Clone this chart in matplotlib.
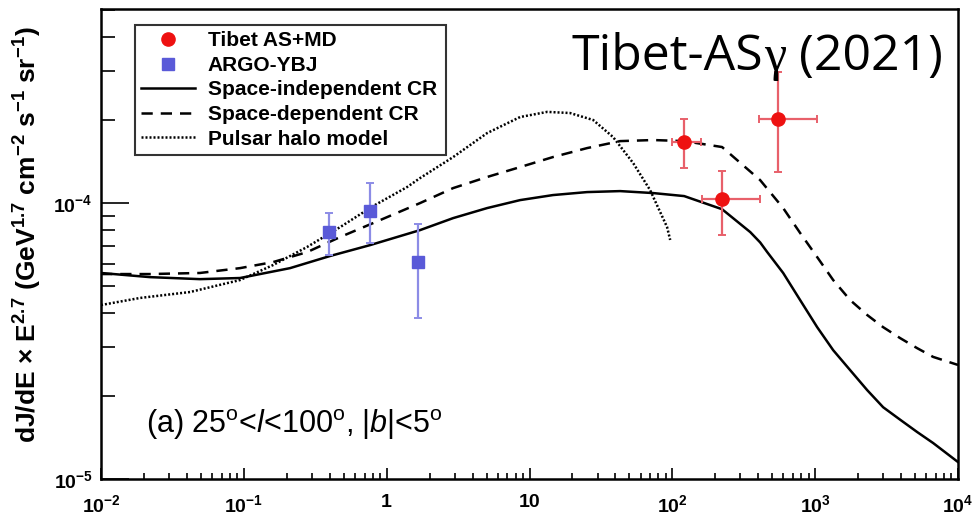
import numpy as np
import matplotlib
import matplotlib.pyplot as plt
from matplotlib.ticker import FixedLocator, FuncFormatter, NullFormatter

matplotlib.use("agg")

plt.rcParams["font.family"] = ["Liberation Sans", "DejaVu Sans"]
plt.rcParams["font.weight"] = "bold"
plt.rcParams["mathtext.fontset"] = "custom"
plt.rcParams["mathtext.rm"] = "Liberation Sans:weight=normal"
plt.rcParams["mathtext.it"] = "Liberation Sans:italic:weight=normal"
plt.rcParams["mathtext.bf"] = "Liberation Sans:bold"
plt.rcParams["mathtext.default"] = "regular"

# Tibet AS+MD points (energy in TeV, flux x E^2.7)
tibet_e = [121, 224, 545]
tibet_e_lo = [100, 161, 405]
tibet_e_hi = [160, 412, 1028]
tibet_flux = [1.667e-4, 1.034e-4, 2.01e-4]
tibet_flux_lo = [1.34e-4, 7.66e-5, 1.30e-4]
tibet_flux_hi = [2.02e-4, 1.31e-4, 2.98e-4]

# ARGO-YBJ points
argo_e = [0.397, 0.766, 1.67]
argo_flux = [7.83e-5, 9.35e-5, 6.12e-5]
argo_flux_lo = [6.49e-5, 7.14e-5, 3.82e-5]
argo_flux_hi = [9.18e-5, 1.185e-4, 8.39e-5]

# space-independent CR model
si_e = [0.01, 0.022, 0.0493, 0.094, 0.2106, 0.402, 0.765, 1.714, 2.92, 5.05,
        8.59, 14.6, 25.3, 43.1, 73.4, 121, 223, 351, 412, 461, 597, 785, 1033,
        1337, 1758, 2312, 2992, 3936, 5176, 6699, 10000]
si_flux = [5.58e-5, 5.39e-5, 5.30e-5, 5.35e-5, 5.81e-5, 6.43e-5, 7.04e-5,
           7.98e-5, 8.82e-5, 9.59e-5, 1.025e-4, 1.069e-4, 1.096e-4, 1.105e-4,
           1.087e-4, 1.060e-4, 9.5e-5, 7.85e-5, 7.2e-5, 6.65e-5, 5.58e-5,
           4.45e-5, 3.55e-5, 2.93e-5, 2.48e-5, 2.10e-5, 1.82e-5, 1.64e-5,
           1.48e-5, 1.35e-5, 1.152e-5]

# space-dependent CR model
sd_e = [0.01, 0.022, 0.0493, 0.094, 0.16, 0.277, 0.472, 0.803, 1.714, 2.92,
        5.05, 8.59, 14.6, 25.3, 43.1, 73.4, 121, 223, 412, 597, 785, 1033,
        1337, 1758, 2312, 2992, 3936, 5176, 6699, 10000]
sd_flux = [5.53e-5, 5.53e-5, 5.58e-5, 5.81e-5, 6.11e-5, 6.64e-5, 7.53e-5,
           8.46e-5, 1.0e-4, 1.133e-4, 1.243e-4, 1.35e-4, 1.468e-4, 1.582e-4,
           1.677e-4, 1.692e-4, 1.677e-4, 1.596e-4, 1.211e-4, 9.59e-5, 7.79e-5,
           6.37e-5, 5.26e-5, 4.45e-5, 3.93e-5, 3.55e-5, 3.24e-5, 2.98e-5,
           2.77e-5, 2.59e-5]

# pulsar halo model
ph_e = [0.01, 0.01875, 0.042, 0.094, 0.160, 0.277, 0.472, 0.803, 1.39, 1.714,
        2.92, 5.05, 8.59, 13.3, 19.2, 27.9, 38.5, 53.2, 69.9, 91.9, 96.6]
ph_flux = [4.27e-5, 4.53e-5, 4.76e-5, 5.26e-5, 5.96e-5, 6.93e-5, 8.18e-5,
           9.75e-5, 1.143e-4, 1.232e-4, 1.468e-4, 1.793e-4, 2.05e-4, 2.14e-4,
           2.12e-4, 2.00e-4, 1.734e-4, 1.396e-4, 1.114e-4, 8.18e-5, 7.35e-5]

x_ticks = [1e-2, 1e-1, 1, 10, 1e2, 1e3, 1e4]
y_ticks = [1e-5, 1e-4]


def decade_label(v, pos):
    n = int(round(np.log10(v)))
    if n == 0:
        return "1"
    if n == 1:
        return "10"
    return f"$\\mathbf{{10^{{{n}}}}}$"


fig = plt.figure(figsize=(9.73, 5.19), dpi=100)
ax = fig.add_axes([101 / 973, 1 - 479 / 519, 857 / 973, 470 / 519])
ax.set_xscale("log")
ax.set_yscale("log")
ax.set_xlim(1e-2, 1e4)
ax.set_ylim(1e-5, 5.05e-4)

lw = 1.8
ax.plot(si_e, si_flux, color="black", lw=lw, ls="-", label="Space-independent CR")
ax.plot(sd_e, sd_flux, color="black", lw=lw, ls=(0, (4.5, 3.2)), label="Space-dependent CR")
ax.plot(ph_e, ph_flux, color="black", lw=lw, ls=(0, (0.8, 0.8)), label="Pulsar halo model")

t_e = np.array(tibet_e)
t_f = np.array(tibet_flux)
ax.errorbar(t_e, t_f,
            xerr=[t_e - np.array(tibet_e_lo), np.array(tibet_e_hi) - t_e],
            yerr=[t_f - np.array(tibet_flux_lo), np.array(tibet_flux_hi) - t_f],
            fmt="none", ecolor="#e8606a", elinewidth=1.6, capsize=3, capthick=1.4)
a_e = np.array(argo_e)
a_f = np.array(argo_flux)
ax.errorbar(a_e, a_f,
            yerr=[a_f - np.array(argo_flux_lo), np.array(argo_flux_hi) - a_f],
            fmt="none", ecolor="#8c8ce6", elinewidth=1.6, capsize=3, capthick=1.4)
ax.plot(tibet_e, tibet_flux, "o", color="#ee1111", ms=9.5, ls="none",
        label="Tibet AS+MD")
ax.plot(argo_e, argo_flux, "s", color="#5a5ad8", ms=9, ls="none",
        label="ARGO-YBJ")

handles, labels = ax.get_legend_handles_labels()
order = [3, 4, 0, 1, 2]
leg = ax.legend([handles[i] for i in order], [labels[i] for i in order],
                loc="upper left", bbox_to_anchor=(0.0397, 0.6957, 0.3629, 0.2703),
                mode="expand", borderaxespad=0, fontsize=15, frameon=True,
                fancybox=False, edgecolor="black", handlelength=2.6,
                handletextpad=0.6, labelspacing=0.27, borderpad=0.3)
leg.get_frame().set_linewidth(1.5)

for s in ax.spines.values():
    s.set_linewidth(1.8)

ax.xaxis.set_major_locator(FixedLocator(x_ticks))
ax.xaxis.set_major_formatter(FuncFormatter(decade_label))
ax.xaxis.set_minor_locator(FixedLocator(
    [m * 10.0 ** d for d in range(-2, 4) for m in range(2, 10)]))
ax.xaxis.set_minor_formatter(NullFormatter())
ax.yaxis.set_major_locator(FixedLocator(y_ticks))
ax.yaxis.set_major_formatter(FuncFormatter(decade_label))
ax.yaxis.set_minor_locator(FixedLocator(
    [m * 10.0 ** d for d in range(-5, -3) for m in range(2, 10)]))
ax.yaxis.set_minor_formatter(NullFormatter())

ax.tick_params(which="both", direction="in", top=False, right=False, width=1.2,
               labelsize=14)
ax.tick_params(axis="x", which="major", length=8, pad=11)
ax.tick_params(axis="x", which="minor", length=4.5)
ax.tick_params(axis="y", which="major", length=20, pad=6)
ax.tick_params(axis="y", which="minor", length=10)

ax.set_ylabel(r"dJ/dE $\times$ E$^{\mathbf{2.7}}$ (GeV$^{\mathbf{1.7}}$ cm$^{\mathbf{-2}}$ "
              r"s$^{\mathbf{-1}}$ sr$^{\mathbf{-1}}$)",
              fontsize=19, fontweight="bold", va="center")
ax.yaxis.set_label_coords(-0.085, 0.519)

ax.text(0.052, 0.097, r"(a) 25$^{o}$<$\it{l}$<100$^{o}$, |$\it{b}$|<5$^{o}$",
        transform=ax.transAxes, fontsize=22, fontweight="normal", va="baseline")

# big title drawn in three pieces so the gamma can use a serif face
base_y = 1 - 70 / 519
renderer = fig.canvas.get_renderer()
t1 = fig.text(572 / 973, base_y, "Tibet-AS", fontsize=36, family="Open Sans",
              fontweight="normal", va="baseline", ha="left")
x1 = t1.get_window_extent(renderer).x1 / fig.bbox.width
t2 = fig.text(x1, base_y, "γ", fontsize=36, family="Liberation Serif",
              fontweight="normal", va="baseline", ha="left")
x2 = t2.get_window_extent(renderer).x1 / fig.bbox.width
fig.text(x2, base_y, " (2021)", fontsize=36, family="Open Sans",
         fontweight="normal", va="baseline", ha="left")

fig.savefig("out.png", dpi=100)
